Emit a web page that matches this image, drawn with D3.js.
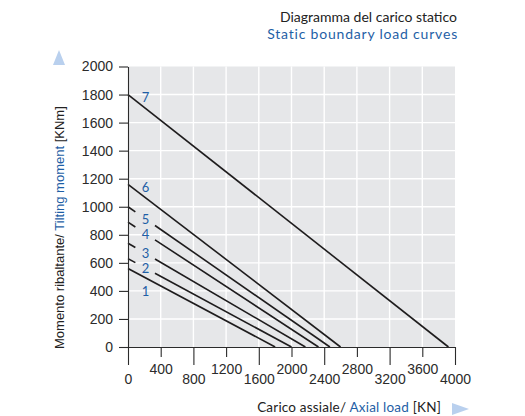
<!DOCTYPE html>
<html>
<head>
<meta charset="utf-8">
<script src="https://cdn.jsdelivr.net/npm/d3@7"></script>
<style>
  html, body { margin: 0; padding: 0; background: #ffffff; }
  svg { display: block; }
</style>
</head>
<body>
<svg id="chart" width="525" height="416"></svg>
<script>
// Static boundary load curves: each curve runs from its tilting-moment
// intercept (axial load 0) down to its axial-load intercept (moment 0).
const curveNames = ["1", "2", "3", "4", "5", "6", "7"];
const momentAtZeroLoad = [560, 630, 740, 890, 1000, 1160, 1800];   // KNm
const loadAtZeroMoment = [1800, 2000, 2170, 2330, 2470, 2600, 3920]; // KN
// Curves whose line is interrupted to make room for the number label
const brokenCurves = ["2", "3", "4", "5"];

const xTicks = [0, 400, 800, 1200, 1600, 2000, 2400, 2800, 3200, 3600, 4000];
const yTicks = [0, 200, 400, 600, 800, 1000, 1200, 1400, 1600, 1800, 2000];

const BLUE = "#1f5fa6";
const INK = "#2b2b2b";
const TEXT_FONT = "Lato, 'Open Sans', sans-serif";
const NUM_FONT = "'Liberation Sans', Arial, sans-serif";
const plain = d3.format("d");

const svg = d3.select("#chart");
const x = d3.scaleLinear().domain([0, 4000]).range([128, 455]);
const y = d3.scaleLinear().domain([0, 2000]).range([347, 66.5]);

// Plot background
svg.append("rect")
  .attr("x", x(0)).attr("y", y(2000))
  .attr("width", x(4000) - x(0)).attr("height", y(0) - y(2000))
  .attr("fill", "#e6e7e9");

// White grid
const grid = svg.append("g").attr("stroke", "#ffffff").attr("stroke-width", 1.4);
xTicks.filter(v => v > 0 && v < 4000).forEach(v => {
  grid.append("line").attr("x1", x(v)).attr("x2", x(v)).attr("y1", y(0)).attr("y2", y(2000));
});
yTicks.filter(v => v > 0 && v < 2000).forEach(v => {
  grid.append("line").attr("x1", x(0)).attr("x2", x(4000)).attr("y1", y(v)).attr("y2", y(v));
});

// Curves
const labelLoad = 215;     // axial load where the number labels sit
const gapFrom = 90, gapTo = 330;
const curves = svg.append("g").attr("stroke", "#1e1c1d").attr("stroke-width", 1.6).attr("fill", "none");
const line = d3.line().x(d => x(d[0])).y(d => y(d[1]));
curveNames.forEach((name, i) => {
  const m0 = momentAtZeroLoad[i], l0 = loadAtZeroMoment[i];
  const at = l => m0 * (1 - l / l0);
  if (brokenCurves.includes(name)) {
    curves.append("path").attr("d", line([[0, m0], [gapFrom, at(gapFrom)]]));
    curves.append("path").attr("d", line([[gapTo, at(gapTo)], [l0, 0]]));
  } else {
    curves.append("path").attr("d", line([[0, m0], [l0, 0]]));
  }
  let dy = 0;
  if (name === "7" || name === "6") dy = -11;
  if (name === "1") dy = 13;
  svg.append("text")
    .attr("x", x(labelLoad)).attr("y", y(at(labelLoad)) + dy)
    .attr("text-anchor", "middle").attr("dominant-baseline", "central")
    .attr("font-family", TEXT_FONT).attr("font-size", 13)
    .attr("fill", BLUE).text(name);
});

// Y axis
const yAxis = svg.append("g")
  .attr("transform", `translate(${x(0)},0)`)
  .call(d3.axisLeft(y).tickValues(yTicks).tickFormat(plain).tickSize(9).tickSizeOuter(0).tickPadding(6));
yAxis.selectAll("text")
  .attr("font-family", NUM_FONT).attr("font-size", 14).attr("fill", INK);
yAxis.selectAll("line, path").attr("stroke", INK).attr("stroke-width", 1.1);

// X axis with alternating tick lengths and staggered labels
const xAxis = svg.append("g")
  .attr("transform", `translate(0,${y(0)})`)
  .call(d3.axisBottom(x).tickValues(xTicks).tickFormat(plain).tickSizeOuter(0));
xAxis.selectAll("line, path").attr("stroke", INK).attr("stroke-width", 1.1);
xAxis.selectAll(".tick").each(function(d, i) {
  const longTick = i % 2 === 0;
  const t = d3.select(this);
  t.select("line").attr("y2", longTick ? 18 : 10);
  t.select("text")
    .attr("dy", null)
    .attr("y", longTick ? 37 : 27)
    .attr("font-family", NUM_FONT).attr("font-size", 14)
    .attr("fill", INK);
});

// Titles
const title = svg.append("g")
  .attr("font-family", TEXT_FONT).attr("font-size", 14).attr("text-anchor", "end");
title.append("text").attr("x", 457).attr("y", 22).attr("fill", "#222")
  .text("Diagramma del carico statico");
title.append("text").attr("x", 458).attr("y", 39).attr("fill", BLUE)
  .attr("letter-spacing", 0.8)
  .text("Static boundary load curves");

// Axis titles
const yTitle = svg.append("text")
  .attr("transform", "translate(64,349) rotate(-90)")
  .attr("text-anchor", "start")
  .attr("font-family", NUM_FONT).attr("font-size", 13)
  .attr("fill", "#222");
yTitle.append("tspan").text("Momento ribaltante/ ");
yTitle.append("tspan").attr("fill", BLUE).text("Tilting moment");
yTitle.append("tspan").text(" [KNm]");

const xTitle = svg.append("text")
  .attr("x", 441).attr("y", 412)
  .attr("text-anchor", "end")
  .attr("font-family", TEXT_FONT).attr("font-size", 13.5)
  .attr("letter-spacing", 0.2)
  .attr("fill", "#222");
xTitle.append("tspan").text("Carico assiale/ ");
xTitle.append("tspan").attr("fill", BLUE).text("Axial load");
xTitle.append("tspan").text(" [KN]");

// Direction arrows
svg.append("path").attr("d", "M59,50 L53,65 L65,65 Z").attr("fill", "#b9d0ee");
svg.append("path").attr("d", "M452,403 L452,415 L469,409 Z").attr("fill", "#b9d0ee");
</script>
</body>
</html>
